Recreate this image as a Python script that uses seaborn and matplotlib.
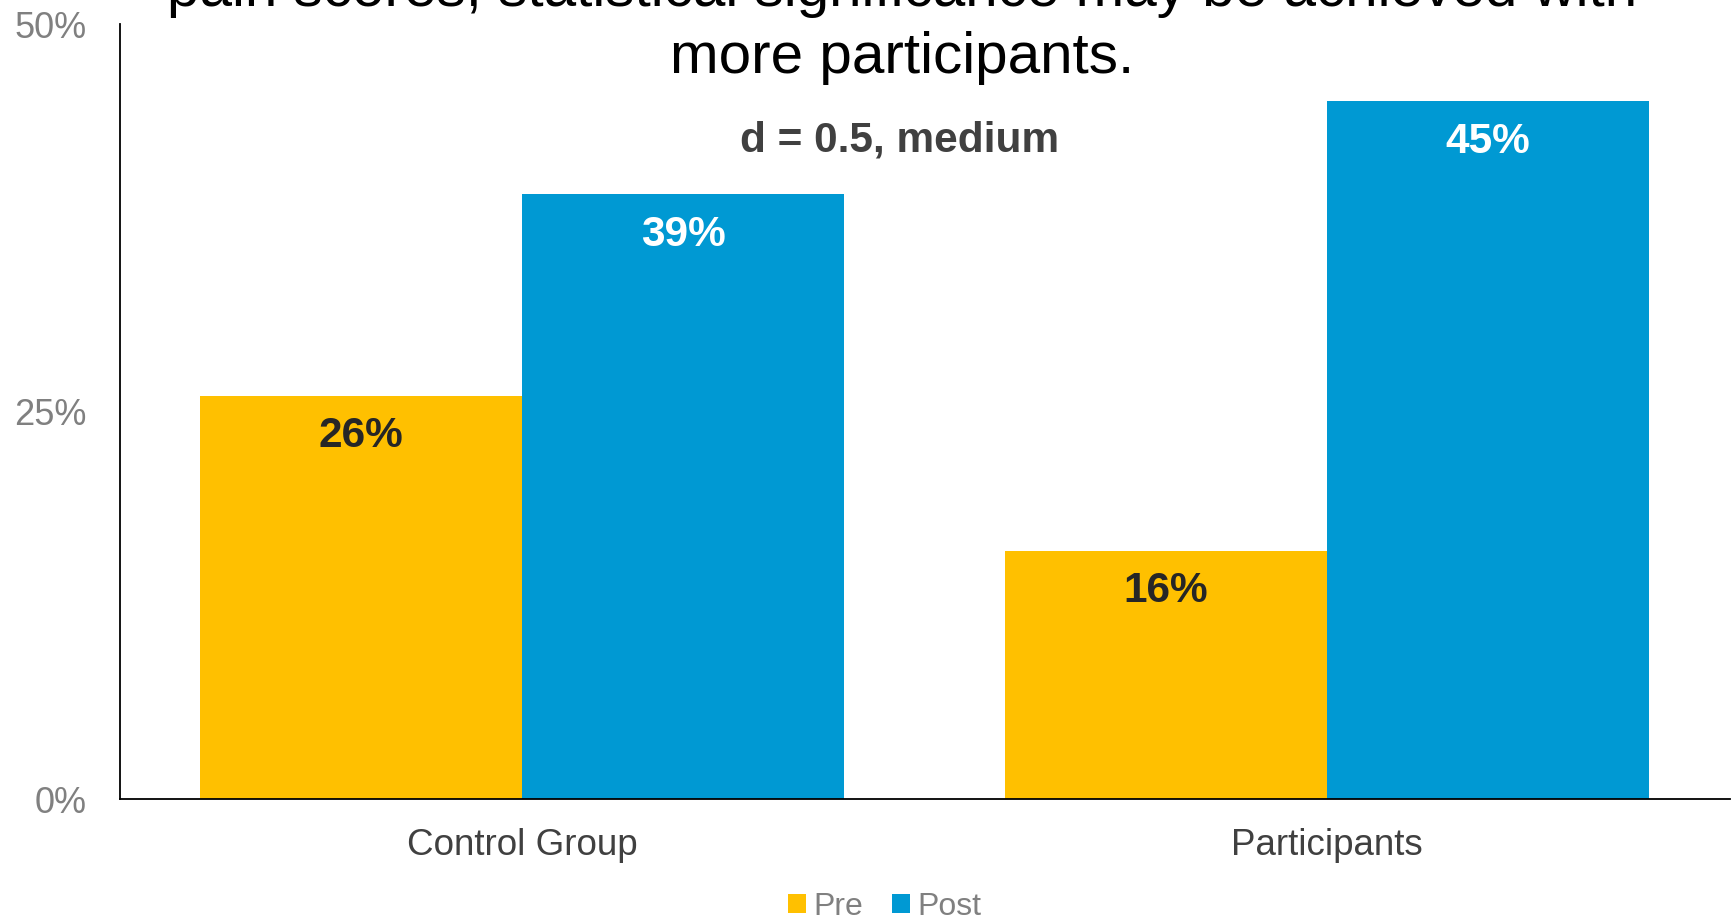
import matplotlib
matplotlib.use("Agg")
import matplotlib.pyplot as plt
import seaborn as sns
import pandas as pd
from matplotlib.patches import Patch

# Chart data
groups = ["Control Group", "Participants"]
phases = ["Pre", "Post"]
pre_values = [26, 16]
post_values = [39, 45]
y_ticks = [0, 25, 50]
title_lines = ["pain scores, statistical significance may be achieved with",
               "more participants."]
effect_note = "d = 0.5, medium"

palette = {"Pre": "#FFC000", "Post": "#0099D3"}
label_colors = {"Pre": "#262626", "Post": "#FFFFFF"}

df = pd.DataFrame({
    "group": groups * 2,
    "phase": ["Pre"] * len(groups) + ["Post"] * len(groups),
    "value": pre_values + post_values,
})

sns.set_theme(style="white")
plt.rcParams["font.family"] = ["Liberation Sans", "DejaVu Sans"]

W, H = 1735, 921
fig = plt.figure(figsize=(W / 100, H / 100), dpi=100)
ax = fig.add_axes([119.5 / W, 1 - 799 / H, 1610 / W, 775 / H])

sns.barplot(data=df, x="group", y="value", hue="phase", order=groups,
            hue_order=phases, palette=palette, width=0.8, saturation=1,
            linewidth=0, ax=ax, legend=False)

ax.set_xlim(-0.5, 1.5)
ax.set_ylim(0, 50)
ax.set_yticks(y_ticks)
ax.set_yticklabels([f"{t}%" for t in y_ticks], fontsize=26, color="#808080")
ax.tick_params(axis="y", length=0, pad=24)
ax.tick_params(axis="x", length=0, pad=21, labelsize=26.5, labelcolor="#404040")
ax.set_xlabel("")
ax.set_ylabel("")
for s in ["top", "right"]:
    ax.spines[s].set_visible(False)
for s in ["left", "bottom"]:
    ax.spines[s].set_color("#000000")
    ax.spines[s].set_linewidth(1.3)

# Value labels just inside each bar top
for container, phase in zip(ax.containers, phases):
    vals = df[df["phase"] == phase]["value"].tolist()
    for bar, v in zip(container, vals):
        x = bar.get_x() + bar.get_width() / 2
        ax.annotate(f"{v}%", xy=(x, v), xytext=(0, -29), textcoords="offset points",
                    ha="center", va="center", fontsize=30.5, fontweight="bold",
                    color=label_colors[phase])

# Title (first line runs past the top edge)
fig.text(902 / W, 1 - 6 / H, title_lines[0], ha="center", va="baseline",
         fontsize=42, color="#000000")
fig.text(902 / W, 1 - 73 / H, title_lines[1], ha="center", va="baseline",
         fontsize=42, color="#000000")
fig.text(900 / W, 1 - 151 / H, effect_note, ha="center", va="baseline",
         fontsize=30.5, fontweight="bold", color="#404040")

handles = [Patch(facecolor=palette[p], edgecolor="none", label=p) for p in phases]
fig.legend(handles=handles, loc="center", bbox_to_anchor=(885 / W, 1 - 907 / H),
           ncol=2, frameon=False, fontsize=23, labelcolor="#808080",
           handlelength=0.55, handleheight=0.55, handletextpad=0.25,
           columnspacing=0.9, borderpad=0)

fig.savefig("out.png", dpi=100)
